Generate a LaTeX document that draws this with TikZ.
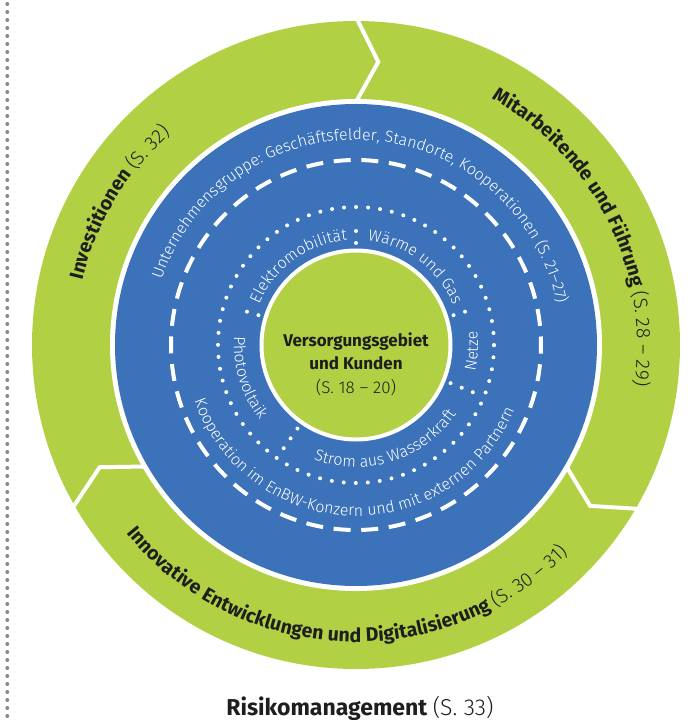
\documentclass[tikz,border=0pt]{standalone}
\usepackage{fontspec}
\setmainfont{Fira Sans}
\newfontfamily\lightfont{Fira Sans Light}
\usetikzlibrary{decorations.text}
\definecolor{ringgreen}{RGB}{178,208,67}
\definecolor{ringblue}{RGB}{59,114,185}
\definecolor{textdark}{RGB}{30,30,30}
\definecolor{dotgray}{RGB}{140,140,132}
\newcommand\ringbold{\fontsize{19.5}{22}\selectfont\bfseries\color{textdark}}
\newcommand\ringlight{\fontsize{19.5}{22}\selectfont\mdseries\lightfont\color{textdark}}
\newcommand\bluelight{\fontsize{16}{19}\selectfont\lightfont\color{white}}

\begin{document}
\begin{tikzpicture}[x=1pt,y=1pt,
  chevron/.style={white,line width=4pt,line join=miter},
  ringtext/.style={decorate,decoration={text along path,text align=center,text={#1}}},
  dotline/.style={white,line width=4pt,line cap=round,dash pattern=on 0pt off #1}]
\useasboundingbox (-356,-375) rectangle (342,345);
% dotted rule on the left
\draw[dotgray,line width=4pt,line cap=round,dash pattern=on 0pt off 8pt] (-348.7,341) -- (-348.7,-375);
% green ring with three arrows
\fill[ringgreen] (0,0) circle[radius=324pt];
\foreach \a in {90,-30,210}
  \draw[chevron] (\a:328pt) -- (\a-4.5:284pt) -- (\a:243pt);
\fill[white] (0,0) circle[radius=246pt];
\fill[ringblue] (0,0) circle[radius=241pt];
% dashed and dotted circles
\draw[white,line width=4pt,dash pattern=on 17pt off 10.676pt,dash phase=8.5pt] (0,0) circle[radius=185pt];
\draw[dotline=12.04pt] (0,0) circle[radius=138pt];
\foreach \a in {90,17,-22,-125,163}
  \draw[dotline=12pt] (\a:102pt) -- (\a:126pt);
% centre
\fill[ringgreen] (0,0) circle[radius=93pt];
\draw[white,line width=4pt] (0,0) circle[radius=94.5pt];
\node[align=center,text=textdark,font=\fontsize{17}{23.3}\selectfont] (kunden) at (0,-19)
  {\bfseries Versorgungsgebiet\\\bfseries und Kunden\\\mdseries\lightfont (S. 18 – 20)};
% texts on the green ring
\path[ringtext={|\ringbold|Investitionen |\ringlight|(S. 32)}]
  (190:281pt) arc[start angle=190,end angle=108,radius=281pt];
\path[ringtext={|\ringbold|Mitarbeitende und Führung |\ringlight|(S. 28 – 29)}]
  (71.5:281pt) arc[start angle=71.5,end angle=-18.5,radius=281pt];
\path[ringtext={|\ringbold|Innovative Entwicklungen und Digitalisierung |\ringlight|(S. 30 – 31)}]
  (207.5:297pt) arc[start angle=207.5,end angle=327.5,radius=297pt];
% texts on the blue ring
\path[ringtext={|\bluelight|Unternehmensgruppe: Geschäftsfelder{,} Standorte{,} Kooperationen (S. 21–27)}]
  (176.5:205pt) arc[start angle=176.5,end angle=-3.5,radius=205pt];
\path[ringtext={|\bluelight|Kooperation im EnBW-Konzern und mit externen Partnern}]
  (178.4:171pt) arc[start angle=178.4,end angle=358.4,radius=171pt];
\path[ringtext={|\bluelight|Elektromobilität}]
  (161:105pt) arc[start angle=161,end angle=91,radius=105pt];
\path[ringtext={|\bluelight|Wärme und Gas}]
  (88:105pt) arc[start angle=88,end angle=18,radius=105pt];
\path[ringtext={|\bluelight|Netze}]
  (-23:122pt) arc[start angle=-23,end angle=17,radius=122pt];
\path[ringtext={|\bluelight|Strom aus Wasserkraft}]
  (-122:122pt) arc[start angle=-122,end angle=-23,radius=122pt];
\path[ringtext={|\bluelight|Photovoltaik}]
  (162:122pt) arc[start angle=162,end angle=232,radius=122pt];
% bottom title
\node[anchor=base,text=textdark,font=\fontsize{23}{27}\selectfont] (risiko) at (4,-370)
  {\bfseries Risikomanagement {\mdseries\lightfont(S. 33)}};
\end{tikzpicture}
\end{document}
